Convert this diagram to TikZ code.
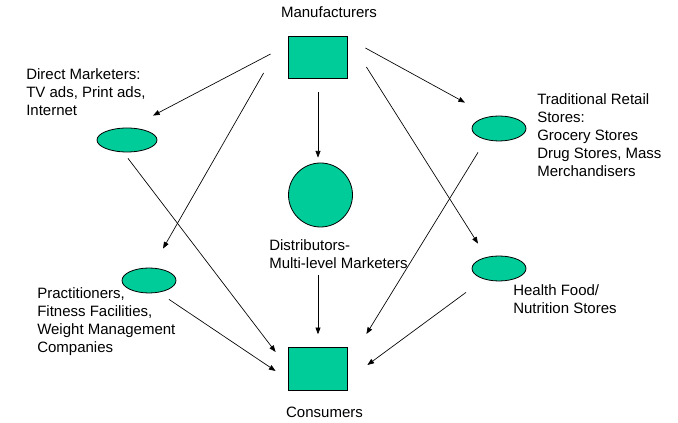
\documentclass[tikz,border=0pt]{standalone}
\usepackage{fontspec}
\setmainfont{Liberation Sans}
\usetikzlibrary{arrows.meta,calc,shapes.geometric}
\definecolor{seagreen}{HTML}{00CC99}
\tikzset{
  chan/.style={draw=black, fill=seagreen, line width=0.6pt},
  sq/.style={chan, rectangle, minimum width=44.25pt, minimum height=32pt, inner sep=0pt},
  oval/.style={chan, ellipse, minimum width=40.5pt, minimum height=18.75pt, inner sep=0pt},
  lbl/.style={inner sep=0pt, align=left, anchor=north west, font=\fontsize{11.25}{13.5}\selectfont},
  arr/.style={-{Triangle[length=5pt,width=3.75pt]}, line width=0.5pt}}

\begin{document}
\begin{tikzpicture}[x=0.75pt, y=-0.75pt]
\useasboundingbox (0,0) rectangle (678,423);
% channel shapes
\node[sq] (man) at (317.5,57.5) {};
\node[sq] (con) at (317.5,369) {};
\node[oval, minimum width=45pt, minimum height=18pt] (dm) at (127,140) {};
\node[oval] (pr) at (149,280.5) {};
\node[oval] (trad) at (499,128.5) {};
\node[oval] (hf) at (499,268.5) {};
\node[chan, circle, minimum size=48pt, inner sep=0pt] (dist) at (320.5,195) {};
% labels
\node[lbl, anchor=base] (manlbl) at (329,18) {Manufacturers};
\node[lbl, anchor=base] (conlbl) at (324.5,418) {Consumers};
\node[lbl] (dmlbl) at (26,68) {Direct Marketers:\\TV ads, Print ads,\\Internet};
\node[lbl] (tradlbl) at (537,93) {Traditional Retail\\Stores:\\Grocery Stores\\Drug Stores, Mass\\Merchandisers};
\node[lbl] (distlbl) at (269,239) {Distributors-\\Multi-level Marketers};
\node[lbl] (prlbl) at (37,287) {Practitioners,\\Fitness Facilities,\\Weight Management\\Companies};
\node[lbl] (hflbl) at (513,284) {Health Food/\\Nutrition Stores};
% manufacturers to channels
\draw[arr] ($(man.west)+(-17,-3.5)$) -- ($(dm.north)+(26,-12)$);
\draw[arr] ($(man.west)+(-24,15.5)$) -- ($(pr.north)+(14,-19)$);
\draw[arr] ($(man.south)+(0.5,13)$) -- ($(dist.north)+(-2.5,-5)$);
\draw[arr] ($(man.east)+(18,-9.5)$) -- ($(trad.north)+(-34,-13)$);
\draw[arr] ($(man.east)+(19,9.5)$) -- ($(hf.north)+(-21,-12)$);
% channels to consumers
\draw[arr] ($(dm.south)+(1,6)$) -- ($(con.west)+(-12,-17)$);
\draw[arr] ($(pr.south)+(20,6)$) -- ($(con.west)+(-12,2)$);
\draw[arr] ($(dist.south)+(-2.5,47.5)$) -- ($(con.north)+(0.5,-13)$);
\draw[arr] ($(trad.south)+(-21,11)$) -- ($(con.east)+(19,-35)$);
\draw[arr] ($(hf.south)+(-33,11)$) -- ($(con.east)+(20,-4)$);
\end{tikzpicture}
\end{document}
